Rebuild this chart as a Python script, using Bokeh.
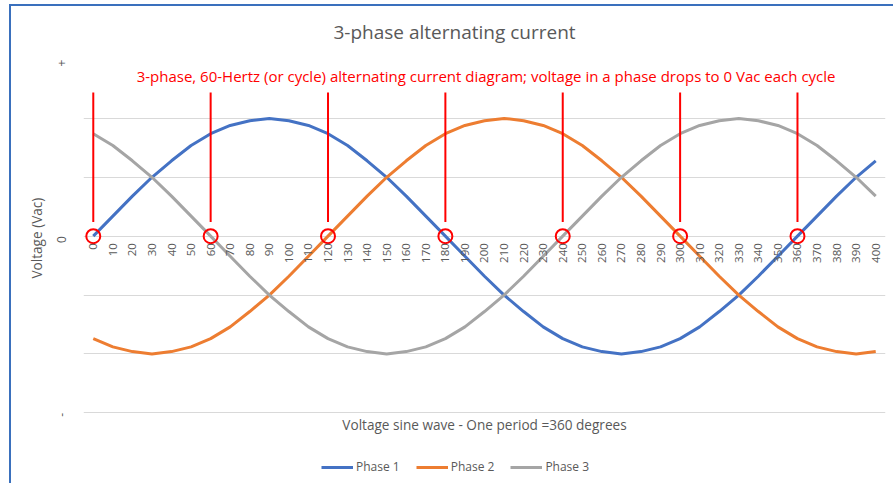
from math import pi
from bokeh.plotting import figure
from bokeh.models import (FactorRange, Range1d, FixedTicker, Label, Title,
                          Legend, LegendItem)
from bokeh.embed import file_html
from bokeh.resources import INLINE

# ---- data ----
degrees = [str(d) for d in range(0, 410, 10)]
phase1 = [0, 0.17, 0.34, 0.5, 0.64, 0.77, 0.87, 0.94, 0.98, 1.0,
          0.98, 0.94, 0.87, 0.77, 0.64, 0.5, 0.34, 0.17, 0, -0.17,
          -0.34, -0.5, -0.64, -0.77, -0.87, -0.94, -0.98, -1.0, -0.98, -0.94,
          -0.87, -0.77, -0.64, -0.5, -0.34, -0.17, 0, 0.17, 0.34, 0.5, 0.64]
phase2 = [-0.87, -0.94, -0.98, -1.0, -0.98, -0.94, -0.87, -0.77, -0.64, -0.5,
          -0.34, -0.17, 0, 0.17, 0.34, 0.5, 0.64, 0.77, 0.87, 0.94,
          0.98, 1.0, 0.98, 0.94, 0.87, 0.77, 0.64, 0.5, 0.34, 0.17,
          0, -0.17, -0.34, -0.5, -0.64, -0.77, -0.87, -0.94, -0.98, -1.0, -0.98]
phase3 = [0.87, 0.77, 0.64, 0.5, 0.34, 0.17, 0, -0.17, -0.34, -0.5,
          -0.64, -0.77, -0.87, -0.94, -0.98, -1.0, -0.98, -0.94, -0.87, -0.77,
          -0.64, -0.5, -0.34, -0.17, 0, 0.17, 0.34, 0.5, 0.64, 0.77,
          0.87, 0.94, 0.98, 1.0, 0.98, 0.94, 0.87, 0.77, 0.64, 0.5, 0.34]
zero_cross = ["0", "60", "120", "180", "240", "300", "360"]
zero_vals = [0, 0, 0, 0, 0, 0, 0]
y_ticks = [-1.5, 0, 1.5]
y_tick_labels = {-1.5: "-", 0: "0", 1.5: "+"}
grid_ticks = [-1.5, -1.0, -0.5, 0, 0.5, 1.0, 1.5]

TITLE = "3-phase alternating current"
NOTE = "3-phase, 60-Hertz (or cycle) alternating current diagram; voltage in a phase drops to 0 Vac each cycle"
XTITLE = "Voltage sine wave - One period =360 degrees"
YTITLE = "Voltage (Vac)"

FONT = "Open Sans"
GRAY = "#595959"
C1, C2, C3 = "#4472C4", "#ED7D31", "#A5A5A5"
BORDER = "#3A70BD"

# frame extends to the bottom of the chart so the x title and legend can sit inside it
p = figure(width=893, height=483, output_backend="svg", toolbar_location=None,
           x_range=FactorRange(factors=degrees, range_padding=0),
           y_range=Range1d(-2.1, 1.5),
           min_border_left=83, min_border_right=8, min_border_top=59, min_border_bottom=0)
p.outline_line_color = None
p.background_fill_color = "white"
p.border_fill_color = None
p.styles = {"background": (f"linear-gradient({BORDER},{BORDER}) 9px 4px / 2px 100% no-repeat, "
                           f"linear-gradient({BORDER},{BORDER}) 9px 4px / 100% 2px no-repeat, white")}

# title
p.title.text = TITLE
p.title.text_font = FONT
p.title.text_font_size = "19px"
p.title.text_font_style = "normal"
p.title.text_color = GRAY
p.title.align = "left"
p.title.offset = 250
p.title.standoff = 29

# grid
p.xgrid.visible = False
p.ygrid.ticker = FixedTicker(ticks=grid_ticks)
p.ygrid.grid_line_color = "#D9D9D9"
p.ygrid.grid_line_width = 1

# x axis at y = 0
xa = p.xaxis[0]
xa.fixed_location = 0
xa.major_label_orientation = pi / 2
xa.axis_line_color = None
xa.major_tick_line_color = None
xa.major_tick_out = 0
xa.major_tick_in = 0
xa.major_label_standoff = 7
xa.major_label_text_font = FONT
xa.major_label_text_font_size = "11.5px"
xa.major_label_text_color = GRAY

# y axis
ya = p.yaxis[0]
ya.ticker = FixedTicker(ticks=y_ticks)
ya.major_label_overrides = y_tick_labels
ya.major_label_orientation = pi / 2
ya.axis_line_color = None
ya.major_tick_line_color = None
ya.minor_tick_line_color = None
ya.major_tick_out = 0
ya.major_tick_in = 0
ya.minor_tick_out = 0
ya.major_label_standoff = 22
ya.major_label_text_font = FONT
ya.major_label_text_font_size = "12px"
ya.major_label_text_color = GRAY

# y-axis title (left side, placed level with the zero line)
yt = Title(text=YTITLE, align="left", offset=205, standoff=8, text_font=FONT,
           text_font_size="13.6px", text_font_style="normal", text_color=GRAY)
p.add_layout(yt, "left")

# series
r1 = p.line(degrees, phase1, line_color=C1, line_width=3, line_join="round")
r2 = p.line(degrees, phase2, line_color=C2, line_width=3, line_join="round")
r3 = p.line(degrees, phase3, line_color=C3, line_width=3, line_join="round")

# zero-crossing markers
p.segment(x0=zero_cross, y0=[0.12] * len(zero_cross), x1=zero_cross, y1=[1.22] * len(zero_cross),
          line_color="#FF0000", line_width=2)
p.scatter(x=zero_cross, y=zero_vals, size=14, fill_color=None, line_color="#FF0000", line_width=2)

# note
p.add_layout(Label(x=20.58, y=1.36, text=NOTE, text_align="center", text_baseline="middle",
                   text_font=FONT, text_font_size="15px", text_color="#FF0000"))

# x-axis title
p.add_layout(Label(x=20.5, y=-1.6, text=XTITLE, text_align="center", text_baseline="middle",
                   text_font=FONT, text_font_size="13.6px", text_color=GRAY))

# legend
legend = Legend(items=[LegendItem(label="Phase 1", renderers=[r1]),
                       LegendItem(label="Phase 2", renderers=[r2]),
                       LegendItem(label="Phase 3", renderers=[r3])],
                orientation="horizontal", location=(238, 8),
                glyph_width=32, glyph_height=14, label_standoff=3, spacing=16,
                padding=2, margin=0, border_line_color=None, background_fill_alpha=0,
                label_text_font=FONT, label_text_font_size="12px", label_text_color=GRAY)
p.add_layout(legend, "center")

open("out.html", "w").write(file_html(p, INLINE))
